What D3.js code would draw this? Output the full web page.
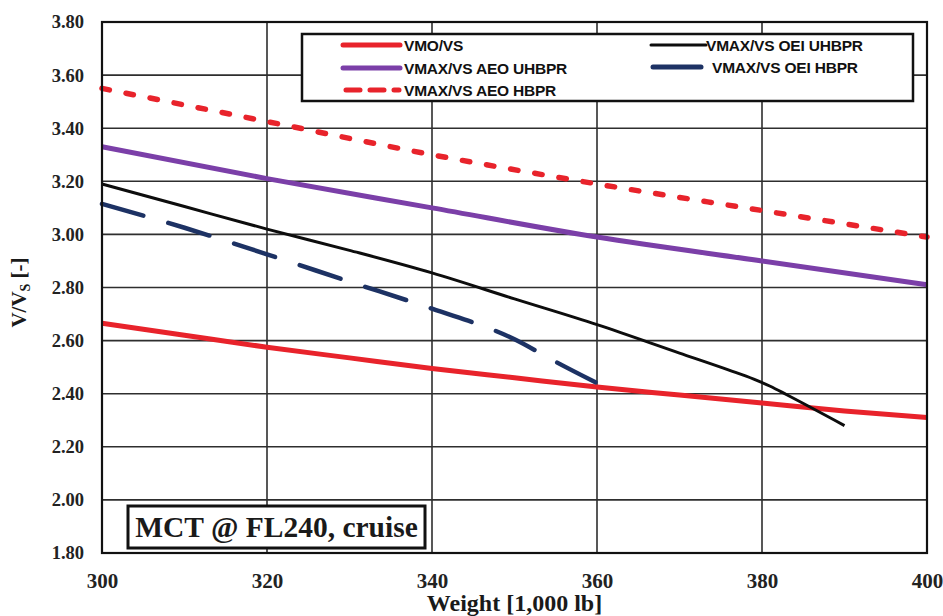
<!DOCTYPE html>
<html>
<head>
<meta charset="utf-8">
<script src="https://cdn.jsdelivr.net/npm/d3@7"></script>
<style>
  html, body { margin: 0; padding: 0; background: #fff; }
  svg { display: block; }
</style>
</head>
<body>
<svg id="chart" width="943" height="616"></svg>
<script>
// Weight axis, in thousands of lb
const xTicks = [300, 320, 340, 360, 380, 400];
const yTicks = [1.8, 2.0, 2.2, 2.4, 2.6, 2.8, 3.0, 3.2, 3.4, 3.6, 3.8];

// VMO/VS
const vmoW = [300, 310, 320, 330, 340, 350, 360, 370, 380, 390, 400];
const vmoV = [2.665, 2.62, 2.575, 2.535, 2.495, 2.46, 2.425, 2.395, 2.365, 2.335, 2.31];

// VMAX/VS AEO UHBPR
const aeoUhW = [300, 320, 340, 360, 380, 400];
const aeoUhV = [3.33, 3.21, 3.10, 2.99, 2.90, 2.81];

// VMAX/VS AEO HBPR
const aeoHW = [300, 320, 340, 360, 380, 400];
const aeoHV = [3.55, 3.425, 3.30, 3.19, 3.09, 2.99];

// VMAX/VS OEI UHBPR
const oeiUhW = [300, 310, 320, 330, 340, 350, 360, 370, 376, 379, 381, 383, 390];
const oeiUhV = [3.19, 3.105, 3.02, 2.94, 2.855, 2.757, 2.66, 2.553, 2.489, 2.455, 2.428, 2.396, 2.28];

// VMAX/VS OEI HBPR
const oeiHW = [300, 310, 320, 330, 340, 350, 355, 360];
const oeiHV = [3.115, 3.025, 2.925, 2.822, 2.72, 2.605, 2.52, 2.44];

const seriesNames = ["VMO/VS", "VMAX/VS AEO UHBPR", "VMAX/VS AEO HBPR", "VMAX/VS OEI UHBPR", "VMAX/VS OEI HBPR"];

const serif = "'Liberation Serif', 'Times New Roman', serif";
const sans = "'Liberation Sans', Arial, sans-serif";

const svg = d3.select("#chart");
const pLeft = 102, pRight = 927, pTop = 22, pBottom = 553;

const x = d3.scaleLinear().domain([300, 400]).range([pLeft, pRight]);
const y = d3.scaleLinear().domain([1.8, 3.8]).range([pBottom, pTop]);

// Grid lines
const grid = svg.append("g");
grid.selectAll("line.gx").data(xTicks.slice(1, -1)).join("line")
  .attr("x1", d => x(d)).attr("x2", d => x(d))
  .attr("y1", pTop).attr("y2", pBottom)
  .attr("stroke", "#2e2e2e").attr("stroke-width", 1.6);
grid.selectAll("line.gy").data(yTicks.slice(1, -1)).join("line")
  .attr("x1", pLeft).attr("x2", pRight)
  .attr("y1", d => y(d)).attr("y2", d => y(d))
  .attr("stroke", "#2e2e2e").attr("stroke-width", 1.6);

// Axes (labels only; frame drawn separately)
const xAxis = svg.append("g").attr("transform", `translate(0,${pBottom})`)
  .call(d3.axisBottom(x).tickValues(xTicks).tickFormat(d3.format("d")).tickSize(0).tickPadding(20));
xAxis.select(".domain").remove();
xAxis.attr("font-family", serif).attr("font-size", 21).attr("font-weight", "bold");
xAxis.selectAll("text").attr("fill", "#222").attr("font-family", serif);

const yAxis = svg.append("g").attr("transform", `translate(${pLeft},0)`)
  .call(d3.axisLeft(y).tickValues(yTicks).tickFormat(d3.format(".2f")).tickSize(0).tickPadding(18));
yAxis.select(".domain").remove();
yAxis.attr("font-family", serif).attr("font-size", 18.5).attr("font-weight", "bold");
yAxis.selectAll("text").attr("fill", "#222").attr("font-family", serif);

// Series lines
const line = d3.line().x(d => x(d[0])).y(d => y(d[1])).curve(d3.curveMonotoneX);
const zip = (a, b) => a.map((v, i) => [v, b[i]]);

const series = [
  { name: seriesNames[0], data: zip(vmoW, vmoV), color: "#e8232b", width: 5, dash: null, cap: "butt" },
  { name: seriesNames[1], data: zip(aeoUhW, aeoUhV), color: "#7b3fa8", width: 5, dash: null, cap: "butt" },
  { name: seriesNames[2], data: zip(aeoHW, aeoHV), color: "#e8232b", width: 5.5, dash: "7.5,17", cap: "round" },
  { name: seriesNames[3], data: zip(oeiUhW, oeiUhV), color: "#0d0d0d", width: 3, dash: null, cap: "butt" },
  { name: seriesNames[4], data: zip(oeiHW, oeiHV), color: "#1d3264", width: 4.5, dash: "43,26", cap: "round" }
];

const plot = svg.append("g");
series.forEach(s => {
  plot.append("path")
    .datum(s.data)
    .attr("d", line)
    .attr("fill", "none")
    .attr("stroke", s.color)
    .attr("stroke-width", s.width)
    .attr("stroke-linecap", s.cap)
    .attr("stroke-dasharray", s.dash);
});

// Plot frame
svg.append("rect")
  .attr("x", pLeft).attr("y", pTop)
  .attr("width", pRight - pLeft).attr("height", pBottom - pTop)
  .attr("fill", "none").attr("stroke", "#111").attr("stroke-width", 2.2);

// Legend
const legend = svg.append("g");
legend.append("rect")
  .attr("x", 302).attr("y", 34).attr("width", 611).attr("height", 67)
  .attr("fill", "#fff").attr("stroke", "#111").attr("stroke-width", 2.5);

const legendItems = [
  { s: series[0], sx: 343, sw: 57, tx: 404, ty: 45 },
  { s: series[1], sx: 343, sw: 57, tx: 404, ty: 68 },
  { s: series[2], sx: 343, sw: 57, tx: 404, ty: 90 },
  { s: series[3], sx: 651, sw: 55, tx: 706, ty: 45 },
  { s: series[4], sx: 653, sw: 48, tx: 712, ty: 67 }
];
legendItems.forEach(it => {
  const isDashed = it.s.name === seriesNames[2];
  legend.append("line")
    .attr("x1", it.sx + (isDashed ? 3 : 0)).attr("x2", it.sx + it.sw - (isDashed ? 1 : 0))
    .attr("y1", it.ty).attr("y2", it.ty)
    .attr("stroke", it.s.color)
    .attr("stroke-width", it.s.name === seriesNames[3] ? 3 : 5)
    .attr("stroke-linecap", "round")
    .attr("stroke-dasharray", isDashed ? "14,10" : null);
  legend.append("text")
    .attr("x", it.tx).attr("y", it.ty)
    .attr("dy", "0.36em")
    .attr("font-family", sans)
    .attr("font-weight", "bold")
    .attr("font-size", 15.5)
    .attr("letter-spacing", "-0.2")
    .attr("fill", "#111")
    .text(it.s.name);
});

// Condition annotation
const note = svg.append("g");
note.append("rect")
  .attr("x", 128).attr("y", 506).attr("width", 297).attr("height", 42)
  .attr("fill", "#fff").attr("stroke", "#111").attr("stroke-width", 3);
note.append("text")
  .attr("x", 276.5).attr("y", 537)
  .attr("text-anchor", "middle")
  .attr("font-family", serif)
  .attr("font-weight", "bold")
  .attr("font-size", 29.5)
  .attr("fill", "#1a1a1a")
  .text("MCT @ FL240, cruise");

// Axis titles
svg.append("text")
  .attr("x", (pLeft + pRight) / 2).attr("y", 611)
  .attr("text-anchor", "middle")
  .attr("font-family", serif)
  .attr("font-weight", "bold")
  .attr("font-size", 24)
  .attr("fill", "#1a1a1a")
  .text("Weight  [1,000 lb]");

const yTitle = svg.append("text")
  .attr("transform", `translate(26,${(pTop + pBottom) / 2 + 5}) rotate(-90)`)
  .attr("text-anchor", "middle")
  .attr("font-family", serif)
  .attr("font-weight", "bold")
  .attr("font-size", 21)
  .attr("fill", "#1a1a1a");
yTitle.append("tspan").text("V/V");
yTitle.append("tspan").attr("font-size", 14).attr("dy", 4).text("S");
yTitle.append("tspan").attr("dy", -4).text(" [-]");
</script>
</body>
</html>
